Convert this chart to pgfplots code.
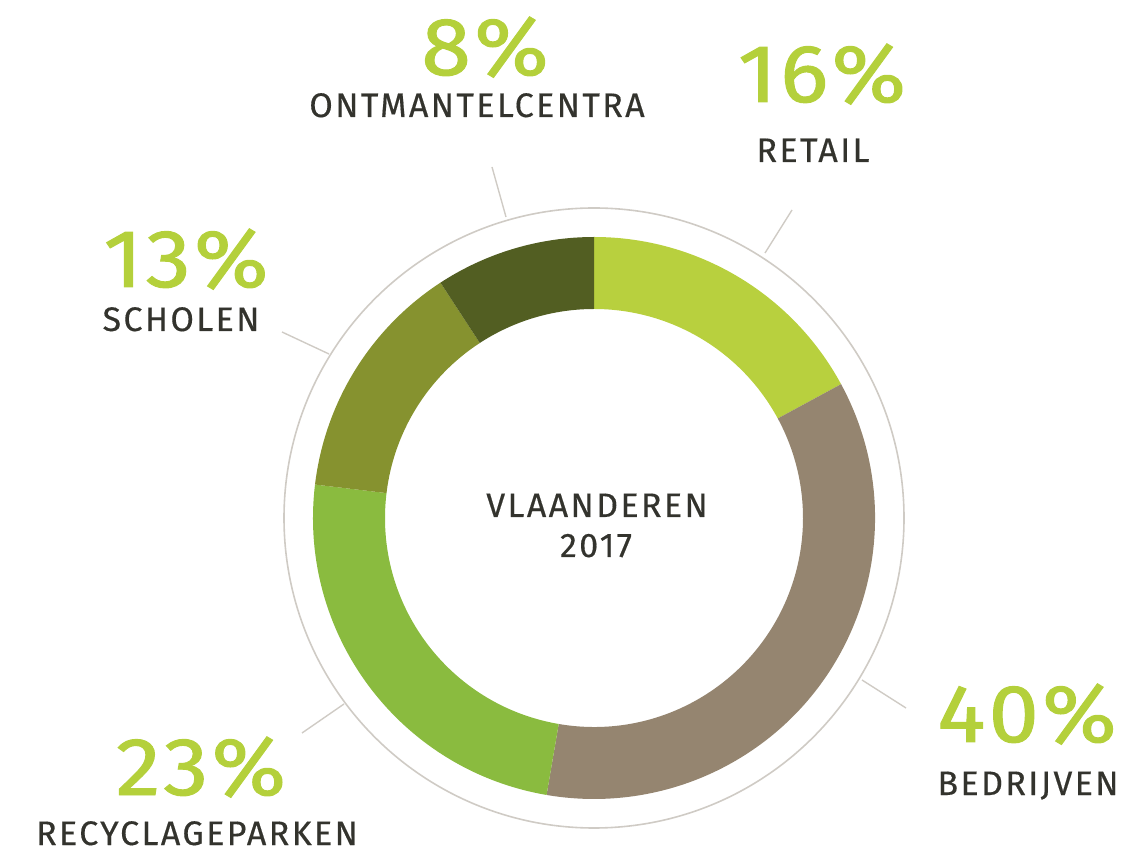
\documentclass[border=0pt]{standalone}
\usepackage{fontspec}
\setmainfont{Fira Sans}
\usepackage{pgfplots}
\pgfplotsset{compat=1.18}
\usepackage{pgfplotstable}

\definecolor{cRetail}{HTML}{B8D03E}
\definecolor{cBedr}{HTML}{958570}
\definecolor{cRecy}{HTML}{8ABB3F}
\definecolor{cScho}{HTML}{86922F}
\definecolor{cOntm}{HTML}{525E22}
\definecolor{cPct}{HTML}{B4D03B}
\definecolor{cTxt}{HTML}{33332D}
\definecolor{cRing}{HTML}{CFCBC5}

% share = drawn part of the ring, pct = printed value
% px py / lx ly = position of the percentage and of the name (1 unit = 1 px)
\pgfplotstableread{
label pct share col px py lx ly
RETAIL 16 17.1 cRetail 822 754 813 694
BEDRIJVEN 40 35.6 cBedr 1027 114 1028 61
RECYCLAGEPARKEN 23 24.2 cRecy 201 61 197 11
SCHOLEN 13 13.9 cScho 186 569 181 525
ONTMANTELCENTRA 8 9.2 cOntm 485 781 477 739
}\sharetable

\newcommand\pctfont{\fontsize{41}{41}\selectfont\addfontfeatures{LetterSpace=4, FakeStretch=1.1, FakeBold=1.2}}
\newcommand\lblfont{\fontsize{17}{17}\selectfont\addfontfeatures{LetterSpace=7, FakeBold=0.4}}

\begin{document}
\begin{tikzpicture}
\begin{axis}[
  x=0.5pt, y=0.5pt, scale only axis,
  xmin=0, xmax=1128, ymin=0, ymax=856,
  hide axis, clip=false,
]
\pgfplotsextra{
  \path (axis cs:0,0) rectangle (axis cs:1128,856);
  % thin outer circle
  \draw[cRing, line width=0.8pt] (axis cs:594,338) circle[radius=155pt];
  % leader lines
  \draw[cRing, line width=0.7pt] (axis cs:492,689) -- (axis cs:506,639);
  \draw[cRing, line width=0.7pt] (axis cs:792,646) -- (axis cs:765,603);
  \draw[cRing, line width=0.7pt] (axis cs:282,524) -- (axis cs:329,502);
  \draw[cRing, line width=0.7pt] (axis cs:302,123) -- (axis cs:344,152);
  \draw[cRing, line width=0.7pt] (axis cs:862,176) -- (axis cs:906,148);
  \def\astart{90}
  \pgfplotsforeachungrouped \i in {0,...,4}{
    \pgfplotstablegetelem{\i}{share}\of\sharetable \let\sh\pgfplotsretval
    \pgfplotstablegetelem{\i}{col}\of\sharetable \let\cl\pgfplotsretval
    \pgfplotstablegetelem{\i}{pct}\of\sharetable \let\pc\pgfplotsretval
    \pgfplotstablegetelem{\i}{label}\of\sharetable \let\lb\pgfplotsretval
    \pgfplotstablegetelem{\i}{px}\of\sharetable \let\ppx\pgfplotsretval
    \pgfplotstablegetelem{\i}{py}\of\sharetable \let\ppy\pgfplotsretval
    \pgfplotstablegetelem{\i}{lx}\of\sharetable \let\llx\pgfplotsretval
    \pgfplotstablegetelem{\i}{ly}\of\sharetable \let\lly\pgfplotsretval
    \pgfmathsetmacro\aend{\astart-3.6*\sh}
    \fill[color=\cl, shift={(axis cs:594,338)}]
      (\astart:140.5pt) arc[start angle=\astart, end angle=\aend, radius=140.5pt]
      -- (\aend:104.5pt) arc[start angle=\aend, end angle=\astart, radius=104.5pt] -- cycle;
    \let\astart\aend
    \node[anchor=base, text=cPct, font=\pctfont] at (axis cs:\ppx,\ppy) {\pc\%};
    \node[anchor=base, text=cTxt, font=\lblfont] at (axis cs:\llx,\lly) {\lb};
  }
  \node[anchor=base, text=cTxt, font=\lblfont] at (axis cs:597,339) {VLAANDEREN};
  \node[anchor=base, text=cTxt, font=\lblfont] at (axis cs:596,299) {2017};
}
\end{axis}
\end{tikzpicture}
\end{document}
